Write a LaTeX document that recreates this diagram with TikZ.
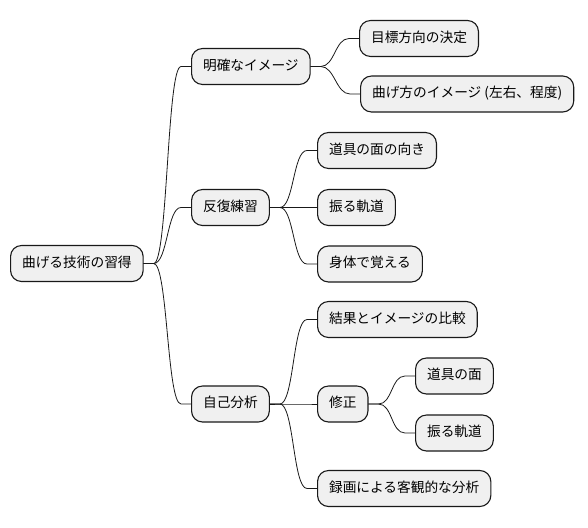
\documentclass[tikz,border=0pt]{standalone}
\usepackage{fontspec}
\setmainfont{Noto Sans CJK JP}
\begin{document}
\begin{tikzpicture}[x=1pt, y=-1pt, line join=round, line cap=round,
	topic/.style={draw=black!90, fill=black!6, line width=1.1pt, rounded corners=11pt,
		anchor=west, minimum height=36pt, inner xsep=11.5pt, inner ysep=0pt,
		text height=0.86em, text depth=0.14em, font=\fontsize{13.7}{16}\selectfont},
	branch/.style={to path={-- ++(10,0) .. controls +(14,0) and +(-14,0) .. ([xshift=-10pt]\tikztotarget) -- (\tikztotarget)}}]
	\useasboundingbox (0,0) rectangle (588,527);
	\node[topic] (root) at (10,263.5) {曲げる技術の習得};
	% 明確なイメージ
	\node[topic] (img) at (191,66.5) {明確なイメージ};
	\node[topic] (img1) at (359,38.5) {目標方向の決定};
	\node[topic] (img2) at (360,94) {曲げ方のイメージ (左右、程度)};
	% 反復練習
	\node[topic] (rep) at (191,207.5) {反復練習};
	\node[topic] (rep1) at (317,150.5) {道具の面の向き};
	\node[topic] (rep2) at (317,207.5) {振る軌道};
	\node[topic] (rep3) at (317,264) {身体で覚える};
	% 自己分析
	\node[topic] (ana) at (191,404) {自己分析};
	\node[topic] (ana1) at (317,319.5) {結果とイメージの比較};
	\node[topic] (ana2) at (317,404) {修正};
	\node[topic] (fix1) at (415,376) {道具の面};
	\node[topic] (fix2) at (415,433) {振る軌道};
	\node[topic] (ana3) at (317,488.5) {録画による客観的な分析};
	\foreach \p/\c in {root/img,root/rep,root/ana,img/img1,img/img2,rep/rep1,rep/rep2,rep/rep3,
		ana/ana1,ana/ana2,ana/ana3,ana2/fix1,ana2/fix2}
		\draw[line width=0.8pt, black!90] (\p.east) to[branch] (\c.west);
\end{tikzpicture}
\end{document}
